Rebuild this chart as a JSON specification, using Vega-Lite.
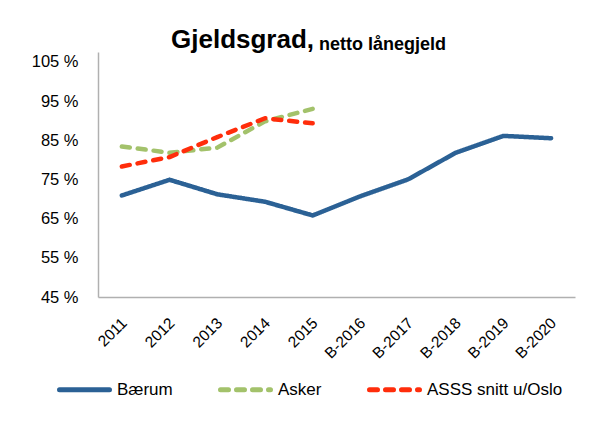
{
  "$schema": "https://vega.github.io/schema/vega-lite/v6.json",
  "width": 477,
  "height": 245,
  "autosize": {"type": "none"},
  "padding": {"left": 98, "top": 52, "right": 17, "bottom": 139},
  "background": "white",
  "title": {
    "text": "Gjeldsgrad,",
    "subtitle": "netto lånegjeld",
    "anchor": "start",
    "frame": "group",
    "dx": 73,
    "offset": -2,
    "font": "Liberation Sans",
    "fontSize": 26,
    "fontWeight": "bold",
    "color": "#000000",
    "subtitleFont": "Liberation Sans",
    "subtitleFontSize": 18,
    "subtitleFontWeight": "bold",
    "subtitleColor": "#000000",
    "subtitlePadding": -17,
    "encode": {"subtitle": {"update": {"dx": {"value": 221}}}}
  },
  "data": {
    "values": [
      {"year": "2011", "series": "Bærum", "value": 70.9},
      {"year": "2012", "series": "Bærum", "value": 74.9},
      {"year": "2013", "series": "Bærum", "value": 71.2},
      {"year": "2014", "series": "Bærum", "value": 69.3},
      {"year": "2015", "series": "Bærum", "value": 65.8},
      {"year": "B-2016", "series": "Bærum", "value": 70.7},
      {"year": "B-2017", "series": "Bærum", "value": 75.0},
      {"year": "B-2018", "series": "Bærum", "value": 81.8},
      {"year": "B-2019", "series": "Bærum", "value": 86.1},
      {"year": "B-2020", "series": "Bærum", "value": 85.5},
      {"year": "2011", "series": "Asker", "value": 83.4},
      {"year": "2012", "series": "Asker", "value": 81.8},
      {"year": "2013", "series": "Asker", "value": 83.1},
      {"year": "2014", "series": "Asker", "value": 89.8},
      {"year": "2015", "series": "Asker", "value": 93.0},
      {"year": "2011", "series": "ASSS snitt u/Oslo", "value": 78.3},
      {"year": "2012", "series": "ASSS snitt u/Oslo", "value": 80.7},
      {"year": "2013", "series": "ASSS snitt u/Oslo", "value": 85.8},
      {"year": "2014", "series": "ASSS snitt u/Oslo", "value": 90.6},
      {"year": "2015", "series": "ASSS snitt u/Oslo", "value": 89.3}
    ]
  },
  "mark": {"type": "line", "strokeWidth": 4.5, "strokeCap": "round", "strokeJoin": "round"},
  "encoding": {
    "x": {
      "field": "year",
      "type": "ordinal",
      "sort": ["2011", "2012", "2013", "2014", "2015", "B-2016", "B-2017", "B-2018", "B-2019", "B-2020"],
      "scale": {"padding": 0.5},
      "axis": {
        "title": null,
        "labelAngle": -45,
        "labelAlign": "right",
        "labelBaseline": "middle",
        "labelPadding": 23,
        "labelOffset": 2,
        "labelFont": "Liberation Sans",
        "labelFontSize": 15.5,
        "labelColor": "#000000",
        "ticks": false,
        "domainColor": "#b0b0b0",
        "domainWidth": 1.5,
        "grid": false
      }
    },
    "y": {
      "field": "value",
      "type": "quantitative",
      "scale": {"domain": [45, 107.5], "nice": false, "zero": false},
      "axis": {
        "title": null,
        "values": [45, 55, 65, 75, 85, 95, 105],
        "labelExpr": "datum.value + ' %'",
        "labelPadding": 20,
        "labelFont": "Liberation Sans",
        "labelFontSize": 16.5,
        "labelColor": "#000000",
        "ticks": false,
        "grid": false,
        "domainColor": "#b0b0b0",
        "domainWidth": 1.5
      }
    },
    "color": {
      "field": "series",
      "type": "nominal",
      "scale": {
        "domain": ["Bærum", "Asker", "ASSS snitt u/Oslo"],
        "range": ["#2b6195", "#a3c26b", "#ff2d0b"]
      },
      "legend": {
        "title": null,
        "orient": "none",
        "legendX": -41,
        "legendY": 310,
        "direction": "horizontal",
        "symbolType": "stroke",
        "symbolSize": 2500,
        "symbolStrokeWidth": 5,
        "labelFont": "Liberation Sans",
        "labelFontSize": 17,
        "labelColor": "#000000",
        "labelOffset": 5,
        "columnPadding": 37,
        "padding": 0,
        "encode": {"symbols": {"update": {"strokeCap": {"value": "round"}}}}
      }
    },
    "strokeDash": {
      "field": "series",
      "type": "nominal",
      "scale": {
        "domain": ["Bærum", "Asker", "ASSS snitt u/Oslo"],
        "range": [[1, 0], [8, 8], [8, 8]]
      },
      "legend": null
    }
  },
  "config": {"view": {"stroke": null}}
}
